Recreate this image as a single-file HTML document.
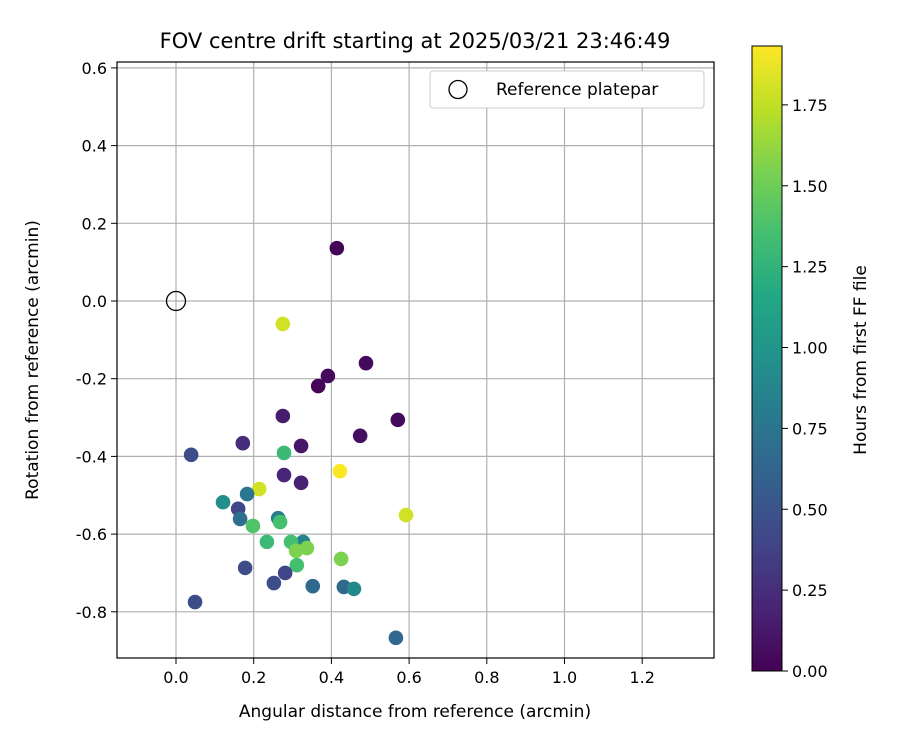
<!DOCTYPE html>
<html><head><meta charset="utf-8"><style>
body{margin:0;background:#fff;font-family:"Liberation Sans","DejaVu Sans",sans-serif;}
svg text{font-family:"DejaVu Sans","Liberation Sans",sans-serif;}
</style></head><body>
<svg id="chart" width="900" height="750" xmlns="http://www.w3.org/2000/svg">
<defs><linearGradient id="vir" x1="0" y1="1" x2="0" y2="0">
<stop offset="0" stop-color="#440154"/><stop offset="0.1" stop-color="#482475"/><stop offset="0.2" stop-color="#414487"/><stop offset="0.3" stop-color="#355f8d"/><stop offset="0.4" stop-color="#2a788e"/><stop offset="0.5" stop-color="#21918c"/><stop offset="0.6" stop-color="#22a884"/><stop offset="0.7" stop-color="#44bf70"/><stop offset="0.8" stop-color="#7ad151"/><stop offset="0.9" stop-color="#bddf26"/><stop offset="1" stop-color="#fde725"/>
</linearGradient></defs>
<text x="415" y="48" font-size="21" text-anchor="middle">FOV centre drift starting at 2025/03/21 23:46:49</text>
<g id="grid"></g><g id="pts"></g><g id="ticks"></g>
<rect x="117" y="62" width="597" height="596" fill="none" stroke="#000" stroke-width="1.2"/>
<text x="415" y="717" font-size="17" text-anchor="middle">Angular distance from reference (arcmin)</text>
<text x="38" y="360" font-size="17" text-anchor="middle" transform="rotate(-90 38 360)">Rotation from reference (arcmin)</text>
<g>
<rect x="430" y="71" width="274" height="37" rx="3" fill="#fff" stroke="#ccc"/>
<circle cx="458" cy="89.5" r="9" fill="none" stroke="#000" stroke-width="1.3"/>
<text x="496" y="95" font-size="17">Reference platepar</text>
</g>
<rect x="752" y="46" width="30" height="625" fill="url(#vir)" stroke="#000" stroke-width="1"/>
<g id="cbticks"></g>
<text x="866" y="360" font-size="17" text-anchor="middle" transform="rotate(-90 866 360)">Hours from first FF file</text>
</svg>
<script>
const xs=[0.414,0.275,0.366,0.391,0.489,0.571,0.275,0.474,0.172,0.322,0.278,0.039,0.422,0.278,0.322,0.214,0.183,0.121,0.160,0.592,0.165,0.263,0.268,0.198,0.234,0.327,0.296,0.337,0.309,0.425,0.311,0.178,0.281,0.252,0.352,0.432,0.458,0.049,0.566];
const ys=[0.136,-0.059,-0.219,-0.193,-0.160,-0.306,-0.296,-0.347,-0.366,-0.373,-0.391,-0.396,-0.438,-0.448,-0.468,-0.484,-0.497,-0.518,-0.535,-0.551,-0.561,-0.559,-0.569,-0.579,-0.620,-0.620,-0.620,-0.636,-0.643,-0.664,-0.680,-0.687,-0.700,-0.726,-0.734,-0.736,-0.741,-0.775,-0.867];
const hours=[0.02,1.8,0.03,0.05,0.05,0.05,0.15,0.07,0.25,0.12,1.3,0.45,1.93,0.2,0.18,1.8,0.75,0.95,0.4,1.8,0.7,0.8,1.35,1.4,1.3,0.85,1.35,1.55,1.55,1.55,1.35,0.45,0.4,0.45,0.65,0.65,0.9,0.45,0.65];
const xTicks=[0,0.2,0.4,0.6,0.8,1.0,1.2];
const yTicks=[0.6,0.4,0.2,0,-0.2,-0.4,-0.6,-0.8];
const cTicks=[0,0.25,0.5,0.75,1.0,1.25,1.5,1.75];
const S=388.5,X=v=>176+v*S,Y=v=>301-v*S;
const cMax=1.932,CY=v=>671-v/cMax*625;
const stops=["#440154","#482475","#414487","#355f8d","#2a788e","#21918c","#22a884","#44bf70","#7ad151","#bddf26","#fde725"];
function hex(h){return [1,3,5].map(i=>parseInt(h.substr(i,2),16));}
function vir(t){t=Math.max(0,Math.min(1,t))*10;const i=Math.min(9,Math.floor(t)),f=t-i,a=hex(stops[i]),b=hex(stops[i+1]);return "rgb("+a.map((v,k)=>Math.round(v+(b[k]-v)*f)).join(",")+")";}
const NS="http://www.w3.org/2000/svg";
function mk(p,tag,at){const e=document.createElementNS(NS,tag);for(const k in at)e.setAttribute(k,at[k]);document.getElementById(p).appendChild(e);return e;}
xTicks.forEach(v=>{
 const g=mk("grid","line",{x1:X(v),x2:X(v),y1:62,y2:658,stroke:"#b0b0b0","stroke-width":1.2});
 
 
 mk("ticks","line",{x1:X(v),x2:X(v),y1:658,y2:664,stroke:"#000"});
 const t=mk("ticks","text",{x:X(v),y:683,"font-size":16,"text-anchor":"middle"});
 t.textContent=v.toFixed(1);
 
 
});
yTicks.forEach(v=>{
 const g=mk("grid","line",{x1:117,x2:714,y1:Y(v),y2:Y(v),stroke:"#b0b0b0","stroke-width":1.2});
 
 
 mk("ticks","line",{x1:111,x2:117,y1:Y(v),y2:Y(v),stroke:"#000"});
 const t=mk("ticks","text",{x:107,y:Y(v)+6,"font-size":16,"text-anchor":"end"});
 t.textContent=v.toFixed(1);
 
 
});
xs.forEach((x,i)=>{
 const c=mk("pts","circle",{cx:X(x),cy:Y(ys[i]),r:7.3,fill:vir(hours[i]/cMax)});
 
 
});
const ref=mk("pts","circle",{cx:X(0),cy:Y(0),r:9.5,fill:"none",stroke:"#000","stroke-width":1.3});


cTicks.forEach(v=>{
 mk("cbticks","line",{x1:782,x2:788,y1:CY(v),y2:CY(v),stroke:"#000"});
 const t=mk("cbticks","text",{x:792,y:CY(v)+6,"font-size":16});
 t.textContent=v.toFixed(2);
 
 
});
</script>
</body></html>
